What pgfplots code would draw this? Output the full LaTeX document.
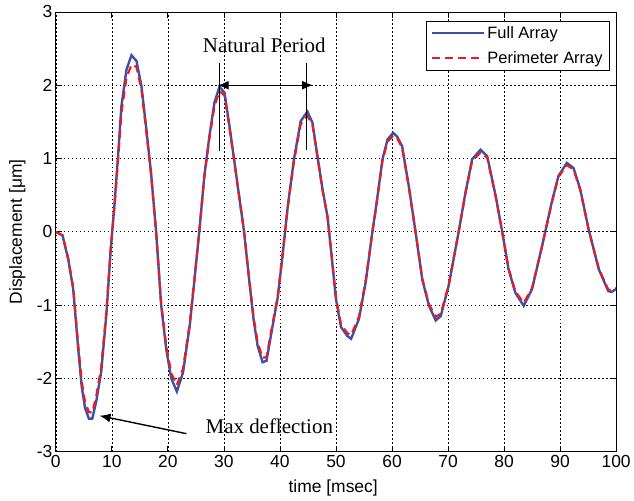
\documentclass[border=0pt]{standalone}
\usepackage{pgfplots}
\pgfplotsset{compat=1.18}
\usepackage{fontspec}
\setmainfont{Liberation Sans}
\newfontfamily\timesfont{Liberation Serif}
\usetikzlibrary{arrows.meta}
\definecolor{fullblue}{RGB}{60,80,170}
\definecolor{perired}{RGB}{228,30,38}
\begin{document}
\begin{tikzpicture}
\begin{axis}[
 scale only axis, width=562pt, height=441pt,
 xmin=0, xmax=100, ymin=-3, ymax=3,
 xtick={0,10,...,100}, ytick={-3,-2,-1,0,1,2,3},
 grid=major,
 major grid style={black, line width=0.6pt, dash pattern=on 1.5pt off 2.5pt},
 tick align=inside, major tick length=6pt,
 axis line style={black, line width=0.8pt},
 tick style={black, line width=0.8pt},
 ticklabel style={font=\fontsize{17.5}{20}\selectfont},
 /pgf/number format/assume math mode=true,
 xlabel={time [msec]}, ylabel={Displacement [μm]},
 label style={font=\fontsize{17.5}{20}\selectfont},
 xlabel style={at={(axis description cs:0.495,-0.0816)}, anchor=center},
 ylabel style={at={(axis description cs:-0.0685,0.5)}, anchor=center},
 legend style={at={(0.989,0.98)}, anchor=north east, draw=black, line width=0.8pt, fill=white,
   font=\fontsize{16.5}{19}\selectfont, row sep=8pt, inner xsep=5pt, inner ysep=3pt},
 legend cell align=left,
 legend image code/.code={\draw[#1] (0pt,0pt) -- (52pt,0pt);},
]
\addplot[fullblue, line width=2.4pt] coordinates {
(0,0) (1.2,-0.05) (2.2,-0.37) (3.1,-0.78) (4.0,-1.6) (4.6,-2.1) (5.2,-2.4) (5.9,-2.55) (6.5,-2.55)
(7.2,-2.32) (8.1,-1.91) (9.0,-1.15) (9.8,-0.24) (10.5,0.40) (11.1,1.03) (11.7,1.71) (12.6,2.21)
(13.5,2.41) (14.4,2.33) (15.3,1.98) (16.1,1.44) (17.0,0.80) (17.9,0.0) (18.8,-1.0) (19.7,-1.6)
(20.6,-2.0) (21.6,-2.18) (22.7,-1.92) (23.9,-1.28) (24.7,-0.69) (25.6,0.0) (26.5,0.76) (27.4,1.30)
(28.3,1.76) (29.2,1.98) (30.1,1.90) (31.0,1.44) (31.9,0.94) (32.8,0.44) (33.6,0.0) (34.5,-0.65)
(35.3,-1.2) (36.0,-1.55) (36.9,-1.78) (37.6,-1.76) (38.7,-1.28) (39.6,-0.9) (40.5,-0.3) (41.4,0.35)
(42.5,0.99) (43.7,1.51) (44.9,1.64) (45.8,1.49) (46.7,1.03) (47.6,0.58) (48.5,0.2) (49.1,-0.24)
(50.0,-0.92) (50.9,-1.30) (52.0,-1.42) (52.7,-1.46) (54.1,-1.19) (55.3,-0.69) (56.5,0) (57.1,0.31)
(58.3,0.99) (59.2,1.26) (60.2,1.35) (60.9,1.30) (61.8,1.17) (63.0,0.62) (64.2,0) (65.4,-0.65)
(66.6,-1.01) (67.8,-1.21) (68.7,-1.15) (70.1,-0.74) (71.9,0) (73.1,0.53) (74.3,0.99) (75.8,1.12)
(77.0,1.03) (78.5,0.49) (79.6,0.03) (80.8,-0.51) (82.0,-0.83) (83.5,-1.01) (85.0,-0.78) (86.8,-0.19)
(88.5,0.40) (89.7,0.76) (91.2,0.94) (92.4,0.87) (93.6,0.58) (95.1,0.03) (96.9,-0.51) (98.6,-0.81)
(99.2,-0.82) (100,-0.78)
};
\addlegendentry{Full Array}
\addplot[perired, line width=2.2pt, dash pattern=on 8pt off 5pt] coordinates {
(0,0) (1.2,-0.05) (2.2,-0.36) (3.1,-0.76) (4.0,-1.55) (4.6,-2.03) (5.2,-2.32) (5.9,-2.46) (6.5,-2.47)
(7.2,-2.25) (8.1,-1.85) (9.0,-1.10) (9.8,-0.22) (10.5,0.38) (11.1,0.98) (11.7,1.62) (12.6,2.10)
(13.5,2.28) (14.4,2.25) (15.3,1.93) (16.1,1.40) (17.0,0.78) (17.9,0.0) (18.8,-0.98) (19.7,-1.55)
(20.6,-1.93) (21.6,-2.09) (22.7,-1.87) (23.9,-1.25) (24.7,-0.67) (25.6,0.0) (26.5,0.74) (27.4,1.27)
(28.3,1.71) (29.2,1.92) (30.1,1.86) (31.0,1.42) (31.9,0.93) (32.8,0.44) (33.6,0.0) (34.5,-0.64)
(35.3,-1.17) (36.0,-1.50) (36.9,-1.72) (37.6,-1.71) (38.7,-1.25) (39.6,-0.88) (40.5,-0.29) (41.4,0.34)
(42.5,0.96) (43.7,1.47) (44.9,1.58) (45.8,1.46) (46.7,1.02) (47.6,0.57) (48.5,0.2) (49.1,-0.23)
(50.0,-0.90) (50.9,-1.27) (52.0,-1.38) (52.7,-1.41) (54.1,-1.16) (55.3,-0.67) (56.5,0) (57.1,0.30)
(58.3,0.97) (59.2,1.23) (60.2,1.31) (60.9,1.28) (61.8,1.15) (63.0,0.61) (64.2,0) (65.4,-0.64)
(66.6,-0.99) (67.8,-1.16) (68.7,-1.12) (70.1,-0.73) (71.9,0) (73.1,0.52) (74.3,0.97) (75.8,1.08)
(77.0,1.01) (78.5,0.48) (79.6,0.03) (80.8,-0.50) (82.0,-0.81) (83.5,-0.97) (85.0,-0.77) (86.8,-0.19)
(88.5,0.39) (89.7,0.75) (91.2,0.91) (92.4,0.85) (93.6,0.57) (95.1,0.03) (96.9,-0.50) (98.6,-0.79)
(99.2,-0.79) (100,-0.77)
};
\addlegendentry{Perimeter Array}
% annotations
\draw[black, line width=1.2pt] (axis cs:29.2,2.31) -- (axis cs:29.2,1.10);
\draw[black, line width=1.2pt] (axis cs:44.7,2.31) -- (axis cs:44.7,1.12);
\draw[black, line width=1.4pt, {Latex[length=11pt,width=9pt]}-{Latex[length=11pt,width=9pt]}] (axis cs:28.9,2) -- (axis cs:45.9,2);
\node[font=\timesfont\fontsize{21}{24}\selectfont] at (axis cs:37.2,2.55) {Natural Period};
\node[font=\timesfont\fontsize{21}{24}\selectfont] at (axis cs:38.1,-2.65) {Max deflection};
\draw[black, line width=1.4pt, -{Latex[length=11pt,width=9pt]}] (axis cs:23.3,-2.755) -- (axis cs:7.8,-2.51);
\end{axis}
\path ([shift={(-56pt,-49pt)}]current axis.south west) rectangle ([shift={(16pt,12pt)}]current axis.north east);
\end{tikzpicture}
\end{document}
